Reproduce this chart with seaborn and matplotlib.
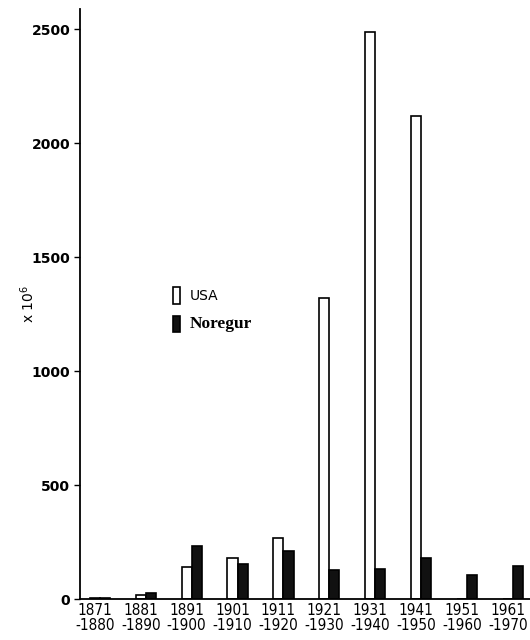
import matplotlib
matplotlib.use("Agg")
import matplotlib.pyplot as plt
import matplotlib.transforms as mtransforms
import pandas as pd
import seaborn as sns

# Tímabil og gildi (x 10^6), lesin af myndinni
periods = ["1871\n-1880", "1881\n-1890", "1891\n-1900", "1901\n-1910", "1911\n-1920",
           "1921\n-1930", "1931\n-1940", "1941\n-1950", "1951\n-1960", "1961\n-1970"]
usa = [5, 16, 140, 178, 267, 1320, 2490, 2120, 0, 0]
noregur = [5, 25, 232, 155, 213, 129, 134, 181, 105, 146]
y_ticks = [0, 500, 1000, 1500, 2000, 2500]

data = pd.DataFrame({
    "period": periods * 2,
    "value": usa + noregur,
    "land": ["USA"] * len(periods) + ["Noregur"] * len(periods),
})

sns.set_style("ticks")
plt.rcParams["font.family"] = ["DejaVu Sans"]
plt.rcParams["text.color"] = "black"
plt.rcParams["axes.labelcolor"] = "black"
plt.rcParams["xtick.color"] = "black"
plt.rcParams["ytick.color"] = "black"

fig = plt.figure(figsize=(5.3, 6.4), dpi=100)
ax = fig.add_axes([0.151, 0.064, 0.849, 0.922])

sns.barplot(ax=ax, data=data, x="period", y="value", hue="land",
            palette={"USA": "white", "Noregur": "#111111"},
            edgecolor="black", linewidth=1.2, width=0.44, gap=0)

ax.set_xlim(-0.43, 9.37)
ax.set_ylim(0, 2590)
ax.set_yticks(y_ticks)
ax.set_yticklabels([str(t) for t in y_ticks], fontsize=10, fontweight="bold")
ax.tick_params(axis="y", length=4, width=1, direction="out", pad=3)
ax.tick_params(axis="x", length=0, pad=3)

# x-merkin liggja aðeins vinstra megin við súlurnar
shift = mtransforms.ScaledTranslation(-5 / 100, 0, fig.dpi_scale_trans)
for lbl in ax.get_xticklabels():
    lbl.set_fontsize(11)
    lbl.set_fontstretch("condensed")
    lbl.set_linespacing(1.0)
    lbl.set_transform(lbl.get_transform() + shift)

ax.set_xlabel("")
ax.set_ylabel("x 10$^6$", fontsize=10)
ax.yaxis.set_label_coords(-0.095, 0.5)

sns.despine(ax=ax)
for s in ["left", "bottom"]:
    ax.spines[s].set_linewidth(1.3)
    ax.spines[s].set_color("black")

# Skýringar
handles, labels = ax.get_legend_handles_labels()
ax.get_legend().remove()
leg = fig.legend(handles, labels, loc="upper left", bbox_to_anchor=(0.313, 0.562),
                 frameon=False, borderpad=0, fontsize=10, handlelength=0.55,
                 handleheight=1.45, handletextpad=0.7, labelspacing=0.85)
leg.get_texts()[0].set_fontsize(10)
leg.get_texts()[1].set_family("Liberation Serif")
leg.get_texts()[1].set_fontweight("bold")
leg.get_texts()[1].set_fontsize(12.5)

fig.savefig("out.png", dpi=100)
